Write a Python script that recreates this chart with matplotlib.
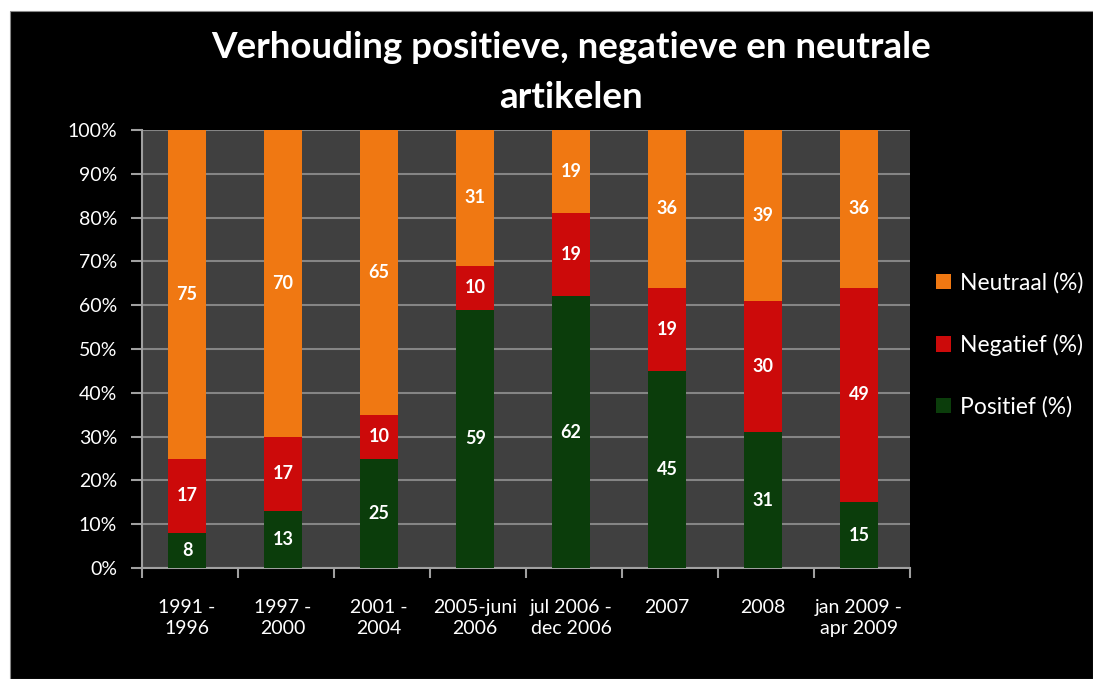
import numpy as np
import matplotlib.pyplot as plt
from matplotlib.patches import Rectangle

plt.rcParams['font.family'] = ['Lato', 'DejaVu Sans']

categories = ['1991 -\n1996', '1997 -\n2000', '2001 -\n2004', '2005-juni\n2006',
              'jul 2006 -\ndec 2006', '2007', '2008', 'jan 2009 -\napr 2009']
positief = [8, 13, 25, 59, 62, 45, 31, 15]
negatief = [17, 17, 10, 10, 19, 19, 30, 49]
neutraal = [75, 70, 65, 31, 19, 36, 39, 36]

series = [('Positief (%)', positief, '#0b3d0b'),
          ('Negatief (%)', negatief, '#cc0a0a'),
          ('Neutraal (%)', neutraal, '#f07812')]

fig = plt.figure(figsize=(10.93, 6.79), dpi=100, facecolor='white')
# black chart area inside a thin white margin
fig.patches.append(Rectangle((10 / 1093, 0), 1 - 10 / 1093, 1 - 11 / 679,
                             transform=fig.transFigure, facecolor='black',
                             edgecolor='#888888', lw=0.8, zorder=-5))

ax = fig.add_axes([142 / 1093, 111 / 679, 768 / 1093, 438 / 679])
ax.set_zorder(2)
ax.set_facecolor('#404040')

x = np.arange(len(categories))
xb = x - 0.03  # excel places the bars a touch left of the slot centre
bottom = np.zeros(len(categories))
handles = []
for name, vals, col in series:
    vals = np.array(vals, dtype=float)
    bars = ax.bar(xb, vals, 0.4, bottom=bottom, color=col, zorder=3, label=name,
                  edgecolor='none')
    handles.append(bars)
    for xi, b, v in zip(xb, bottom, vals):
        ax.text(xi, b + v / 2, '%d' % v, ha='center', va='center', color='white',
                fontsize=13, fontweight='bold', zorder=4)
    bottom += vals

ax.set_xlim(-0.5, len(categories) - 0.5)
ax.set_ylim(0, 100)
ax.set_yticks(np.arange(0, 101, 10))
ax.set_yticklabels(['%d%%' % v for v in range(0, 101, 10)])
ax.yaxis.grid(True, color='#858585', lw=1.5, zorder=1)
ax.set_axisbelow(True)

ax.set_xticks(xb)
ax.set_xticklabels(categories, linespacing=1.35)
ax.set_xticks(np.arange(-0.5, len(categories)), minor=True)
ax.tick_params(axis='x', which='major', length=0, pad=22, colors='white', labelsize=14)
ax.tick_params(axis='x', which='minor', length=7, width=1.5, color='#a0a0a0')
ax.tick_params(axis='y', length=8, width=1.5, color='#a0a0a0', labelcolor='white',
               labelsize=14, pad=10)

for s in ['top', 'right']:
    ax.spines[s].set_visible(False)
for s in ['left', 'bottom']:
    ax.spines[s].set_color('#a0a0a0')
    ax.spines[s].set_linewidth(1.5)

fig.text(571 / 1093, 1 - 47 / 679, 'Verhouding positieve, negatieve en neutrale',
         ha='center', va='center', color='white', fontsize=26.5, fontweight='bold')
fig.text(571 / 1093, 1 - 98 / 679, 'artikelen',
         ha='center', va='center', color='white', fontsize=26.5, fontweight='bold')

leg = fig.legend(handles[::-1], [s[0] for s in series][::-1],
                 loc='center left', bbox_to_anchor=(915 / 1093, 1 - 345 / 679),
                 frameon=False, fontsize=16.5, labelcolor='white',
                 handlelength=0.65, handleheight=0.65, handletextpad=0.4,
                 labelspacing=1.75)

fig.savefig('out.png', dpi=100, facecolor='white')
